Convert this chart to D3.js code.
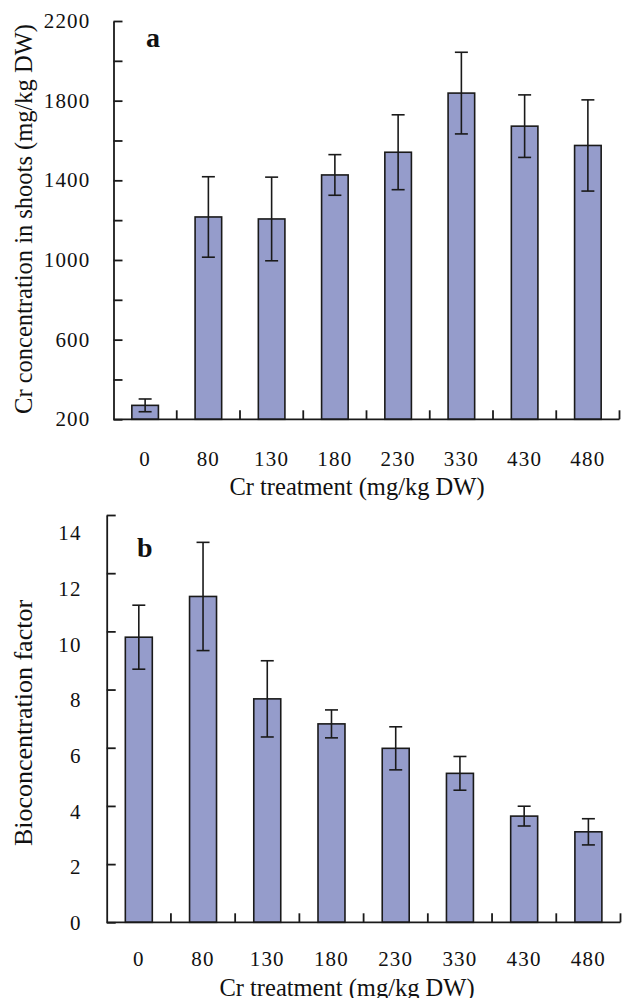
<!DOCTYPE html>
<html>
<head>
<meta charset="utf-8">
<script src="https://cdn.jsdelivr.net/npm/d3@7"></script>
<style>
  body { margin: 0; background: #fff; }
  text { font-family: "Liberation Serif", "Times New Roman", serif; fill: #111; }
</style>
</head>
<body>
<div id="chart"></div>
<script>
const doses = ["0", "80", "130", "180", "230", "330", "430", "480"]
// panel a: Cr concentration in shoots (mg/kg DW), mean and error
const shootCr = [270, 1216, 1206, 1427, 1541, 1838, 1672, 1575]
const shootCrErr = [32, 202, 210, 102, 188, 205, 157, 229]
// panel b: bioconcentration factor
const bcf = [9.8, 11.2, 7.68, 6.82, 5.98, 5.12, 3.65, 3.11]
const bcfErr = [1.1, 1.86, 1.31, 0.48, 0.74, 0.58, 0.34, 0.45]

const width = 622
const height = 998
const bar_fill = "#959ccb"
const ink = "#1a1a1a"
const tick_len = 9
const cap_half = 6.5

var svg = d3.select("#chart")
	.append("svg")
	.attr("width", width)
	.attr("height", height)

function drawPanel(p) {
	let rows = p.cats.map((c, i) => ({cat: c, v: p.values[i], e: p.errors[i]}))

	let x = d3.scaleBand()
		.domain(p.cats)
		.range(p.xRange)
		.paddingInner(0.58)
		.paddingOuter(0.29)
	let y = d3.scaleLinear()
		.domain(p.yDomain)
		.range(p.yRange)
	// tick labels are drawn slightly off the tick marks in the original
	let yLab = d3.scaleLinear()
		.domain(p.yDomain)
		.range(p.labelRange || p.yRange)

	let g = svg.append("g")

	// bars
	g.selectAll(".bar")
		.data(rows)
		.enter().append("rect")
		.attr("class", "bar")
		.attr("x", d => x(d.cat))
		.attr("width", x.bandwidth())
		.attr("y", d => y(d.v))
		.attr("height", d => y(p.yDomain[0]) - y(d.v))
		.attr("fill", bar_fill)
		.attr("stroke", ink)
		.attr("stroke-width", 1.6)

	// error bars
	let cx = d => x(d.cat) + x.bandwidth()/2
	let eb = g.selectAll(".err")
		.data(rows)
		.enter().append("g")
		.attr("class", "err")
		.attr("stroke", ink)
		.attr("stroke-width", 1.6)
	eb.append("line")
		.attr("x1", cx).attr("x2", cx)
		.attr("y1", d => y(d.v + d.e)).attr("y2", d => y(d.v - d.e))
	eb.append("line")
		.attr("x1", d => cx(d) - cap_half).attr("x2", d => cx(d) + cap_half)
		.attr("y1", d => y(d.v + d.e)).attr("y2", d => y(d.v + d.e))
	eb.append("line")
		.attr("x1", d => cx(d) - cap_half).attr("x2", d => cx(d) + cap_half)
		.attr("y1", d => y(d.v - d.e)).attr("y2", d => y(d.v - d.e))

	// y axis, ticks pointing inward
	let yAxis = d3.axisLeft(y)
		.tickValues(p.yTicks)
		.tickSizeInner(-tick_len)
		.tickSizeOuter(0)
		.tickFormat("")
	let ya = g.append("g")
		.attr("transform", `translate(${p.xRange[0]},0)`)
		.call(yAxis)
	ya.selectAll("line, path").attr("stroke", ink).attr("stroke-width", 1.8)

	g.selectAll(".ylab")
		.data(p.yLabels)
		.enter().append("text")
		.attr("class", "ylab")
		.attr("x", p.xRange[0] - p.labelGap)
		.attr("y", d => yLab(d))
		.attr("dy", "0.34em")
		.attr("text-anchor", "end")
		.attr("font-size", "21px")
		.attr("letter-spacing", "1.2px")
		.text(d => d)

	// x axis: baseline with upward ticks between categories
	let base = y(p.yDomain[0])
	g.append("line")
		.attr("x1", p.xRange[0]).attr("x2", p.xRange[1])
		.attr("y1", base).attr("y2", base)
		.attr("stroke", ink).attr("stroke-width", 1.8)
	g.selectAll(".xtick")
		.data(d3.range(1, p.cats.length + 1))
		.enter().append("line")
		.attr("class", "xtick")
		.attr("x1", i => p.xRange[0] + i*x.step())
		.attr("x2", i => p.xRange[0] + i*x.step())
		.attr("y1", base).attr("y2", base - tick_len)
		.attr("stroke", ink).attr("stroke-width", 1.8)

	g.selectAll(".xlab")
		.data(p.cats)
		.enter().append("text")
		.attr("class", "xlab")
		.attr("x", d => x(d) + x.bandwidth()/2)
		.attr("y", base + p.xLabelDrop)
		.attr("text-anchor", "middle")
		.attr("font-size", "21px")
		.attr("letter-spacing", "1.2px")
		.text(d => d)

	g.append("text")
		.attr("x", p.xTitlePos[0])
		.attr("y", p.xTitlePos[1])
		.attr("text-anchor", "middle")
		.attr("font-size", "24.5px")
		.text("Cr treatment (mg/kg DW)")

	g.append("text")
		.attr("transform", `translate(${p.yTitlePos[0]},${p.yTitlePos[1]}) rotate(-90)`)
		.attr("text-anchor", "middle")
		.attr("dy", "0.35em")
		.attr("font-size", p.yTitleSize)
		.text(p.yTitle)

	g.append("text")
		.attr("x", p.letterPos[0])
		.attr("y", p.letterPos[1])
		.attr("font-size", "28px")
		.attr("font-weight", "bold")
		.text(p.letter)
}

drawPanel({
	cats: doses, values: shootCr, errors: shootCrErr,
	xRange: [113.5, 619.5], yRange: [419.3, 21], yDomain: [200, 2200],
	yTicks: d3.range(200, 2201, 200), yLabels: [200, 600, 1000, 1400, 1800, 2200],
	labelGap: 23, xLabelDrop: 47,
	xTitlePos: [357, 495], yTitlePos: [23, 219], yTitleSize: "24.5px",
	yTitle: "Cr concentration in shoots (mg/kg DW)",
	letter: "a", letterPos: [146, 47]
})

drawPanel({
	cats: doses, values: bcf, errors: bcfErr,
	xRange: [106.7, 620.5], yRange: [922.3, 515], yDomain: [0, 14],
	labelRange: [923, 533],
	yTicks: d3.range(0, 15, 2), yLabels: d3.range(0, 15, 2),
	labelGap: 25, xLabelDrop: 44,
	xTitlePos: [347, 996], yTitlePos: [23, 723], yTitleSize: "26px",
	yTitle: "Bioconcentration factor",
	letter: "b", letterPos: [137, 557]
})
</script>
</body>
</html>
